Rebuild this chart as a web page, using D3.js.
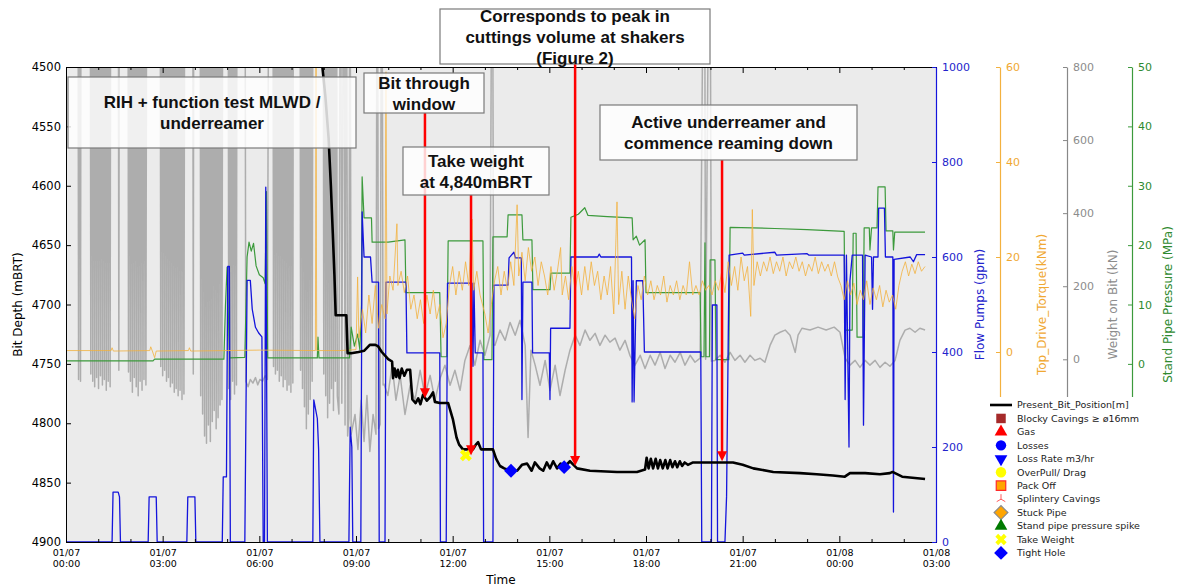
<!DOCTYPE html>
<html>
<head>
<meta charset="utf-8">
<script src="https://cdn.jsdelivr.net/npm/d3@7"></script>
<style>
    body { margin: 0; background: #ffffff; }
</style>
</head>
<body>
<svg id="chart" width="1180" height="588" font-family="'DejaVu Sans', sans-serif"></svg>
<script>
// ========================= DATA ==================================
// time is in hours after 01/07 00:00

const depthTicks = [4500, 4550, 4600, 4650, 4700, 4750, 4800, 4850, 4900];
const flowTicks = [0, 200, 400, 600, 800, 1000];
const torqueTicks = [0, 20, 40, 60];
const wobTicks = [0, 200, 400, 600, 800];
const sppTicks = [0, 10, 20, 30, 40, 50];
const timeTicks = [0, 3, 6, 9, 12, 15, 18, 21, 24, 27];

// Present_Bit_Position[m]  [hour, mBRT]
const bitPosition = [
    [7.92, 4490], [8.05, 4525], [8.15, 4560], [8.22, 4600], [8.28, 4640], [8.33, 4675], [8.37, 4709],
    [8.70, 4709], [8.74, 4741], [8.85, 4741], [9.08, 4740], [9.25, 4739], [9.43, 4734], [9.60, 4734],
    [9.68, 4735], [9.80, 4740], [10.0, 4746], [10.12, 4748], [10.15, 4762], [10.2, 4754], [10.25, 4761],
    [10.3, 4755], [10.35, 4762], [10.42, 4754], [10.5, 4760], [10.58, 4755], [10.68, 4755], [10.75, 4780],
    [10.85, 4783], [10.93, 4779], [11.0, 4784], [11.08, 4776], [11.2, 4781], [11.3, 4778], [11.39, 4774],
    [11.45, 4782], [11.6, 4783], [11.86, 4783], [12.01, 4797], [12.12, 4812], [12.2, 4818], [12.32, 4822],
    [12.63, 4822], [12.72, 4818], [12.79, 4816], [12.88, 4822], [13.25, 4822], [13.35, 4830], [13.47, 4836],
    [13.6, 4838], [13.8, 4840], [14.0, 4840], [14.15, 4835], [14.31, 4834], [14.45, 4840], [14.55, 4833],
    [14.7, 4838], [14.81, 4840], [14.92, 4833], [15.02, 4838], [15.12, 4832], [15.24, 4838], [15.35, 4834],
    [15.5, 4836], [15.64, 4832], [15.75, 4835], [15.86, 4838], [16.26, 4840], [17.1, 4841], [17.72, 4841],
    [17.97, 4839], [18.02, 4829], [18.08, 4838], [18.15, 4830], [18.22, 4838], [18.3, 4830], [18.37, 4838],
    [18.44, 4831], [18.52, 4838], [18.6, 4831], [18.67, 4838], [18.75, 4831], [18.82, 4837], [18.9, 4832],
    [18.97, 4837], [19.05, 4832], [19.12, 4836], [19.2, 4833], [19.3, 4835], [19.46, 4833], [19.68, 4833],
    [20.2, 4833], [20.7, 4833], [21.0, 4835], [21.33, 4838], [21.95, 4841], [22.78, 4842], [23.3, 4843],
    [23.8, 4844], [24.17, 4845], [24.33, 4842], [24.8, 4842], [25.26, 4843], [25.57, 4842], [25.65, 4841],
    [25.95, 4845], [26.66, 4847]
];

// Weight on Bit (kN)  [hour, kN]  (1500 = off scale while tripping)
const weightOnBit = [
    [0, 1500], [0.37, 1500], [0.39, -55], [0.42, 1500], [0.45, -60], [0.47, 1500],
    [0.75, 1500], [0.77, -40], [0.80, 1500], [0.83, -60], [0.86, 1500], [0.89, -75], [0.92, 1500], [0.95, -50],
    [0.98, 1500], [1.01, -80], [1.04, 1500], [1.07, -45], [1.10, 1500], [1.13, -70], [1.16, 1500], [1.19, -55],
    [1.22, 1500], [1.25, -85], [1.28, 1500], [1.31, -60], [1.34, 1500], [1.37, -75], [1.39, 1500],
    [1.62, 1500], [1.64, -30], [1.66, 1500],
    [1.92, 1500], [1.94, -35], [1.97, 1500], [2.00, -60], [2.03, 1500], [2.06, -90], [2.09, 1500], [2.12, -50],
    [2.15, 1500], [2.18, -75], [2.21, 1500], [2.24, -100], [2.27, 1500], [2.30, -60], [2.33, 1500], [2.36, -85],
    [2.39, 1500], [2.42, -55], [2.45, 1500], [2.48, -70], [2.51, 1500],
    [2.92, 1500], [2.94, -20], [2.97, 1500], [3.00, -45], [3.03, 1500], [3.06, -30], [3.09, 1500], [3.12, -60],
    [3.15, 1500], [3.18, -50], [3.21, 1500], [3.24, -75], [3.27, 1500], [3.30, -65], [3.33, 1500], [3.36, -90],
    [3.39, 1500], [3.42, -80], [3.45, 1500], [3.48, -100], [3.51, 1500], [3.54, -85], [3.57, 1500], [3.60, -110],
    [3.63, 1500], [3.66, -95], [3.69, 1500],
    [3.93, 1500], [3.95, -40], [3.97, 1500],
    [4.16, 1500], [4.18, -100], [4.21, 1500], [4.24, -150], [4.27, 1500], [4.30, -210], [4.33, 1500], [4.36, -230],
    [4.39, 1500], [4.42, -180], [4.45, 1500], [4.48, -225], [4.51, 1500], [4.54, -170], [4.57, 1500], [4.60, -140],
    [4.63, 1500], [4.66, -190], [4.69, 1500], [4.72, -160], [4.75, 1500], [4.78, -125], [4.81, 1500], [4.84, -110],
    [4.87, 1500],
    [5.03, 1500], [5.05, -80], [5.08, 1500], [5.11, -110], [5.14, 1500], [5.17, -60], [5.20, 1500], [5.23, -95],
    [5.26, 1500], [5.29, -70], [5.31, 1500],
    [5.55, 1500], [5.58, -60], [5.65, -75], [5.72, -55], [5.80, -65], [5.88, -50], [5.95, -70], [6.02, -55],
    [6.10, -60], [6.18, -45], [6.25, -55], [6.30, 1500],
    [6.42, 1500], [6.44, -20], [6.47, 1500], [6.50, -40], [6.53, 1500], [6.56, -30], [6.59, 1500], [6.62, -60],
    [6.65, 1500], [6.68, -45], [6.71, 1500], [6.74, -75], [6.77, 1500], [6.80, -55], [6.83, 1500], [6.86, -85],
    [6.89, 1500], [6.92, -70], [6.95, 1500], [6.98, -90], [7.01, 1500], [7.04, -65], [7.06, 1500],
    [7.26, 1500], [7.28, -30], [7.31, 1500], [7.34, -80], [7.37, 1500], [7.40, -130], [7.43, 1500], [7.46, -190],
    [7.49, 1500], [7.52, -150], [7.55, 1500], [7.58, -110], [7.61, 1500], [7.64, -60], [7.67, 1500],
    [7.98, 1500], [8.00, -40], [8.03, 1500], [8.06, -100], [8.09, 1500], [8.12, -160], [8.15, 1500], [8.18, -120],
    [8.21, 1500], [8.24, -80], [8.27, 1500], [8.30, -140], [8.33, 1500], [8.36, -60], [8.39, 1500], [8.42, -100],
    [8.47, -150], [8.52, 1500], [8.56, -120], [8.62, 1500], [8.66, -180], [8.70, 1500], [8.74, -210], [8.78, -160],
    [8.81, 1500], [8.85, -205], [8.97, -151], [9.06, -247], [9.16, -112], [9.25, -225], [9.34, -99], [9.43, -252],
    [9.53, -151], [9.62, -205], [9.66, 1500], [9.70, -190], [9.75, -178], [9.80, 1500], [9.84, -70], [9.87, -68],
    [9.99, -99], [10.12, -16], [10.24, -112], [10.37, -44], [10.52, -151], [10.68, -71], [10.83, -112], [10.99, -30],
    [11.14, -99], [11.30, -44], [11.45, -112], [11.61, -52], [11.76, -16], [11.92, -71], [12.07, -30], [12.23, -85],
    [12.38, -3], [12.54, 38], [12.69, -16], [12.85, 52], [13.00, 11], [13.16, 66], [13.23, 1500], [13.27, 40],
    [13.31, 38], [13.47, 80], [13.63, 52], [13.78, 101], [13.94, 66], [14.09, 107], [14.25, 38], [14.34, -214],
    [14.43, 25], [14.56, -16], [14.71, -71], [14.87, -3], [15.02, -85], [15.18, -16], [15.33, -99], [15.49, -30],
    [15.64, 25], [15.80, 66], [15.95, 38], [16.11, 80], [16.26, 52], [16.42, 71], [16.57, 38], [16.73, 66],
    [16.88, 47], [17.04, 58], [17.19, 25], [17.35, 52], [17.50, 11], [17.66, -16], [17.82, 11], [17.97, -25],
    [18.13, 11], [18.28, -16], [18.44, 19], [18.59, -25], [18.75, 11], [18.90, -8], [19.06, 19], [19.21, -16],
    [19.37, 11], [19.52, -8], [19.68, 3], [19.81, 1500], [19.85, 0], [19.98, 1500], [20.03, -5], [20.14, -3],
    [20.30, 11], [20.45, -8], [20.61, 19], [20.76, -3], [20.92, 11], [21.07, -8], [21.23, 11], [21.38, -3],
    [21.54, 3], [21.69, -8], [21.85, 38], [22.00, 66], [22.16, 74], [22.32, 80], [22.47, 66], [22.63, 19],
    [22.72, 66], [22.84, 85], [23.09, 80], [23.34, 88], [23.59, 80], [23.84, 88], [24.02, 74], [24.18, 3],
    [24.33, -16], [24.49, -3], [24.64, -22], [24.80, -3], [24.95, -16], [25.11, -3], [25.26, -22], [25.42, -8],
    [25.57, -19], [25.73, -3], [25.88, 52], [26.04, 80], [26.19, 85], [26.35, 74], [26.50, 85], [26.66, 80]
];

// Top_Drive_Torque(kNm)  [hour, kNm]
const topDriveTorque = [
    [0, 0.3], [1.4, 0.3], [1.43, 0.9], [1.47, 0.2], [2.6, 0.3], [2.63, 1.1], [2.68, 0.2], [2.75, -1.2],
    [2.8, 0.2], [3.8, 0.3], [3.83, 0.9], [3.87, 0.2], [5.0, 0.3], [6.0, 0.4], [7.74, 0.3], [7.76, 65],
    [7.78, 0.3], [8.5, 0.3], [9.0, 0.5], [9.05, 15.8], [9.09, 3], [9.2, 9], [9.3, 4], [9.4, 12], [9.5, 6],
    [9.6, 14], [9.7, 5], [9.8, 10], [9.9, 7], [9.93, 59], [9.96, 8], [10.05, 16], [10.15, 13], [10.27, 27],
    [10.3, 14], [10.4, 17], [10.5, 12.5], [10.6, 16], [10.7, 9], [10.8, 12], [10.9, 7], [11.0, 11], [11.1, 6],
    [11.2, 12], [11.3, 8], [11.4, 13], [11.5, 7], [11.6, 10], [11.7, 3], [11.8, 6], [11.9, 14], [12.0, 18],
    [12.1, 12], [12.2, 17], [12.3, 13], [12.4, 19], [12.5, 14], [12.6, 28], [12.65, 13], [12.75, 17],
    [12.85, 12], [13.0, 8], [13.1, 4], [13.2, 10], [13.3, 15], [13.4, 18], [13.5, 12], [13.6, 17], [13.7, 13],
    [13.8, 19], [13.9, 14], [14.0, 31], [14.05, 16], [14.15, 21], [14.25, 15], [14.35, 22], [14.45, 17],
    [14.55, 20], [14.65, 14], [14.75, 19], [14.85, 16], [14.95, 12], [15.05, 18], [15.15, 13], [15.25, 17],
    [15.35, 22], [15.4, 12], [15.5, 16], [15.6, 11], [15.7, 18], [15.8, 13], [15.9, 17], [16.0, 12],
    [16.1, 18], [16.2, 13], [16.3, 19], [16.4, 14], [16.5, 17], [16.6, 11], [16.7, 16], [16.8, 12],
    [16.9, 18], [17.0, 8], [17.1, 31.6], [17.15, 10], [17.25, 17], [17.35, 9], [17.45, 16], [17.55, 11],
    [17.65, 7], [17.75, 14], [17.85, 11], [17.95, 16], [18.05, 12], [18.15, 15], [18.25, 11], [18.35, 14],
    [18.45, 12], [18.55, 16], [18.65, 10.5], [18.75, 14], [18.85, 12], [18.95, 15], [19.05, 11], [19.15, 14],
    [19.25, 12], [19.35, 19], [19.45, 12], [19.55, 14], [19.65, 12], [19.75, 15], [19.85, 13], [19.95, 14],
    [20.05, 12], [20.15, 15], [20.25, 13], [20.35, 17], [20.45, 12.5], [20.55, 19], [20.65, 14], [20.75, 18],
    [20.85, 13], [20.95, 20], [21.05, 15], [21.15, 18], [21.25, 7.5], [21.3, 30], [21.35, 14], [21.45, 19],
    [21.55, 16], [21.65, 19], [21.75, 17], [21.85, 20], [21.95, 16.5], [22.05, 19], [22.15, 17], [22.25, 20],
    [22.35, 16], [22.45, 19], [22.55, 17.5], [22.65, 20], [22.75, 17], [22.85, 19], [22.95, 16], [23.05, 18.5],
    [23.15, 17], [23.25, 20], [23.35, 16.5], [23.45, 19], [23.55, 17], [23.65, 18.5], [23.75, 16], [23.85, 19],
    [23.95, 15.8], [24.05, 14], [24.15, 11], [24.25, 15], [24.35, 12], [24.45, 14.5], [24.55, 10], [24.65, 13],
    [24.75, 11], [24.85, 15], [24.95, 10], [25.05, 13.5], [25.15, 11], [25.25, 14], [25.35, 9.5], [25.45, 13],
    [25.55, 10.5], [25.65, 12], [25.75, 9], [25.85, 14], [25.95, 17], [26.05, 19], [26.15, 16], [26.25, 18.5],
    [26.35, 16.5], [26.45, 19], [26.55, 17], [26.66, 18]
];

// Flow Pumps (gpm)  [hour, gpm]
const flowPumps = [
    [0, 0], [1.43, 0], [1.46, 105], [1.62, 105], [1.66, 95], [1.69, 0], [2.55, 0], [2.58, 95], [2.8, 95],
    [2.83, 0], [3.75, 0], [3.78, 95], [4.0, 95], [4.03, 0], [4.85, 0], [4.88, 137], [4.98, 137], [5.02, 580],
    [5.07, 580], [5.1, 0], [5.55, 0], [5.62, 551], [5.72, 551], [5.78, 490], [5.88, 452], [5.98, 440],
    [6.08, 432], [6.12, 0], [6.16, 0], [6.2, 747], [6.25, 0], [7.66, 0], [7.69, 299], [7.8, 260], [7.84, 195],
    [7.88, 0], [8.78, 0], [8.82, 242], [8.87, 200], [8.9, 0], [9.15, 0], [9.19, 695], [9.25, 600], [9.45, 600],
    [9.5, 547], [9.7, 547], [9.72, 0], [9.9, 0], [9.93, 547], [10.55, 547], [10.58, 398], [11.6, 398],
    [11.62, 0], [11.8, 0], [11.84, 545], [12.6, 545], [12.63, 370], [12.66, 545], [12.7, 398], [12.94, 398],
    [12.96, 0], [13.25, 0], [13.28, 541], [13.72, 541], [13.75, 598], [13.9, 610], [13.95, 598], [14.13, 598],
    [14.15, 300], [14.18, 547], [14.46, 547], [14.48, 398], [15.0, 398], [15.02, 300], [15.04, 450],
    [15.64, 450], [15.67, 600], [16.5, 600], [16.55, 606], [16.6, 600], [17.55, 600], [17.57, 295], [17.6, 550],
    [17.63, 295], [17.7, 550], [17.9, 550], [17.95, 400], [19.7, 400], [19.73, 0], [20.03, 0], [20.06, 499],
    [20.2, 499], [20.22, 0], [20.45, 0], [20.5, 95], [20.58, 604], [21.0, 608], [21.05, 604], [22.0, 610],
    [22.05, 604], [23.0, 607], [23.05, 604], [24.15, 604], [24.18, 300], [24.22, 604], [24.3, 200],
    [24.33, 550], [24.4, 604], [24.72, 604], [24.75, 246], [24.8, 604], [25.0, 600], [25.03, 490], [25.06, 600],
    [25.2, 600], [25.22, 703], [25.4, 703], [25.43, 600], [25.66, 600], [25.68, 63], [25.7, 595], [26.2, 600],
    [26.3, 590], [26.4, 605], [26.66, 605]
];

// Stand Pipe Pressure (MPa)  [hour, MPa]
const standPipePressure = [
    [0, 0.5], [2.7, 0.5], [2.75, 0.8], [4.9, 0.8], [4.95, 10], [5.0, 16.3], [5.04, 8], [5.08, 1], [5.55, 1.1],
    [5.62, 18], [5.68, 20.5], [5.75, 19], [5.82, 20.3], [5.9, 16.5], [6.0, 15], [6.12, 14.5], [6.18, 13.5],
    [6.22, 29], [6.26, 1], [7.8, 1], [7.82, 4.5], [7.85, 1], [8.8, 1], [8.85, 6.2], [8.95, 3], [9.05, 5],
    [9.12, 2.4], [9.17, 10], [9.19, 31.5], [9.25, 24.6], [9.48, 24.6], [9.5, 20.5], [10.0, 20.5], [10.52, 20.9],
    [10.55, 12], [11.6, 12], [11.64, 1.2], [11.82, 1.2], [11.86, 20.7], [12.94, 20.7], [12.97, 0.7],
    [13.22, 0.7], [13.25, 21.4], [13.69, 21.4], [13.72, 25.1], [14.15, 25.1], [14.18, 20.9], [14.46, 20.9],
    [14.49, 12.5], [15.02, 12.5], [15.05, 15.3], [15.64, 15.3], [15.67, 24.7], [15.9, 25.2], [16.1, 26.3],
    [16.2, 25], [16.8, 24.8], [17.57, 24.6], [17.6, 20.9], [17.7, 21.5], [17.8, 20], [17.97, 20.9], [18.0, 12],
    [19.68, 12], [19.71, 1.2], [19.8, 1.2], [19.83, 20.4], [19.86, 1.2], [19.97, 1.2], [19.99, 17.5],
    [20.14, 17.5], [20.17, 0.7], [20.57, 0.7], [20.61, 23], [22.0, 22.8], [23.0, 22.6], [24.15, 22.3],
    [24.18, 5.7], [24.4, 5.7], [24.43, 22], [24.52, 22], [24.55, 4.5], [24.74, 4.5], [24.77, 22.9],
    [24.93, 22.9], [24.95, 19.2], [25.0, 22.9], [25.17, 22.9], [25.2, 29.8], [25.42, 29.8], [25.45, 22.4],
    [25.66, 22.4], [25.68, 19.2], [25.72, 22.2], [26.66, 22.2]
];

// events  [hour, mBRT]
const takeWeight = [[12.41, 4827]];
const tightHole = [[13.81, 4840], [15.46, 4837]];
const arrowTips = [[11.14, 4779], [12.57, 4827], [15.8, 4836], [20.36, 4832]];

const annotationText = [
    ['RIH + function test MLWD /', 'underreamer'],
    ['Bit through', 'window'],
    ['Corresponds to peak in', 'cuttings volume at shakers', '(Figure 2)'],
    ['Take weight', 'at 4,840mBRT'],
    ['Active underreamer and', 'commence reaming down']
];

const legendNames = [
    'Present_Bit_Position[m]', 'Blocky Cavings \u2265 \u00f816mm', 'Gas', 'Losses', 'Loss Rate m3/hr',
    'OverPull/ Drag', 'Pack Off', 'Splintery Cavings', 'Stuck Pipe', 'Stand pipe pressure spike',
    'Take Weight', 'Tight Hole'
];

// ========================= LAYOUT ==================================

const plot = { left: 66, top: 67, right: 936, bottom: 542 };

// annotation boxes (pixels) and which box each red arrow leaves from
const annotationBoxes = [
    { x: 68, y: 77, w: 288, h: 71 },
    { x: 364, y: 73, w: 120, h: 40 },
    { x: 440, y: 9, w: 270, h: 55 },
    { x: 403, y: 147, w: 146, h: 48 },
    { x: 600, y: 105, w: 257, h: 55 }
];
const arrowFromBox = [1, 3, 2, 4];

const colours = {
    bit: '#000000',
    flow: '#1414dc',
    flowText: '#2323cc',
    torque: '#f3b13f',
    torqueText: '#f0a832',
    wob: '#a6a6a6',
    wobText: '#8c8c8c',
    spp: '#3c9a3c',
    sppText: '#2f8a2f'
};

// axis dates read month/day: 01/07 is 7 January
const start = new Date(2019, 0, 7, 0, 0);
const at = h => new Date(start.getTime() + h * 3600 * 1000);

const x = d3.scaleTime().domain([at(0), at(27)]).range([plot.left, plot.right]);
const yDepth = d3.scaleLinear().domain([4500, 4900]).range([plot.top, plot.bottom]);
const yFlow = d3.scaleLinear().domain([0, 1000]).range([plot.bottom, plot.top]);
const yTorque = d3.scaleLinear().domain([-40, 60]).range([plot.bottom, plot.top]);
const yWob = d3.scaleLinear().domain([-500, 800]).range([plot.bottom, plot.top]);
const ySpp = d3.scaleLinear().domain([-30, 50]).range([plot.bottom, plot.top]);

const svg = d3.select('#chart');

svg.append('rect')
    .attr('x', plot.left)
    .attr('y', plot.top)
    .attr('width', plot.right - plot.left)
    .attr('height', plot.bottom - plot.top)
    .attr('fill', '#ebebeb');

svg.append('clipPath')
    .attr('id', 'plot-clip')
    .append('rect')
    .attr('x', plot.left)
    .attr('y', plot.top)
    .attr('width', plot.right - plot.left)
    .attr('height', plot.bottom - plot.top);

const marks = svg.append('g').attr('clip-path', 'url(#plot-clip)');

const drawSeries = (data, yScale, colour, width, opacity) => {
    marks.append('path')
        .datum(data)
        .attr('fill', 'none')
        .attr('stroke', colour)
        .attr('stroke-width', width)
        .attr('stroke-opacity', opacity)
        .attr('stroke-linejoin', 'round')
        .attr('d', d3.line().x(d => x(at(d[0]))).y(d => yScale(d[1])));
};

drawSeries(weightOnBit, yWob, colours.wob, 1.5, 0.9);
drawSeries(standPipePressure, ySpp, colours.spp, 1.2, 1);
drawSeries(flowPumps, yFlow, colours.flow, 1.3, 1);
drawSeries(topDriveTorque, yTorque, colours.torque, 1, 0.8);
drawSeries(bitPosition, yDepth, colours.bit, 2.6, 1);

// event markers
marks.selectAll('.take-weight')
    .data(takeWeight)
    .enter()
    .append('path')
    .attr('class', 'take-weight')
    .attr('d', d3.symbol(d3.symbolCross, 90))
    .attr('transform', d => `translate(${x(at(d[0]))},${yDepth(d[1])}) rotate(45)`)
    .attr('fill', '#ffff00');

marks.selectAll('.tight-hole')
    .data(tightHole)
    .enter()
    .append('path')
    .attr('class', 'tight-hole')
    .attr('d', d3.symbol(d3.symbolSquare, 95))
    .attr('transform', d => `translate(${x(at(d[0]))},${yDepth(d[1])}) rotate(45)`)
    .attr('fill', '#0000ff');

// ========================= AXES ==================================

const styleAxis = (g, colour, size) => {
    g.attr('font-family', '"DejaVu Sans", sans-serif').attr('font-size', size);
    g.selectAll('.tick line').attr('stroke', colour);
    g.selectAll('.tick text').attr('fill', colour);
    g.select('.domain').attr('stroke', colour);
};

// time axis: major ticks every 3h, minor every hour, ticks pointing inwards
const minorTicks = d3.range(0, 28).filter(h => h % 3 !== 0).map(at);

svg.append('g')
    .attr('transform', `translate(0,${plot.bottom})`)
    .call(d3.axisBottom(x).tickValues(minorTicks).tickSize(-3).tickFormat(''))
    .call(g => g.select('.domain').remove())
    .call(g => g.selectAll('line').attr('stroke', '#000'));

svg.append('g')
    .attr('transform', `translate(0,${plot.top})`)
    .call(d3.axisTop(x).tickValues(minorTicks).tickSize(-3).tickFormat(''))
    .call(g => g.select('.domain').remove())
    .call(g => g.selectAll('line').attr('stroke', '#000'));

svg.append('g')
    .attr('transform', `translate(0,${plot.top})`)
    .call(d3.axisTop(x).tickValues(timeTicks.map(at)).tickSize(-6).tickFormat(''))
    .call(g => g.select('.domain').remove())
    .call(g => g.selectAll('line').attr('stroke', '#000'));

const xAxis = svg.append('g')
    .attr('transform', `translate(0,${plot.bottom})`)
    .call(d3.axisBottom(x).tickValues(timeTicks.map(at)).tickSize(-6).tickFormat(d3.timeFormat('%m/%d')))
    .call(g => g.select('.domain').remove());
styleAxis(xAxis, '#000', 9.5);
xAxis.selectAll('.tick text').each(function (d) {
    const t = d3.select(this);
    t.text(null).attr('y', 0).attr('dy', null);
    t.append('tspan').attr('x', 0).attr('y', 14).text(d3.timeFormat('%m/%d')(d));
    t.append('tspan').attr('x', 0).attr('y', 25).text(d3.timeFormat('%H:%M')(d));
});

svg.append('text')
    .attr('x', (plot.left + plot.right) / 2)
    .attr('y', 584)
    .attr('text-anchor', 'middle')
    .attr('font-size', 12)
    .attr('fill', '#000')
    .text('Time');

// depth axis
const depthAxis = svg.append('g')
    .attr('transform', `translate(${plot.left},0)`)
    .call(d3.axisLeft(yDepth).tickValues(depthTicks).tickSize(-5).tickPadding(5).tickFormat(d3.format('d')))
    .call(g => g.select('.domain').remove());
styleAxis(depthAxis, '#000', 11.5);

svg.append('text')
    .attr('transform', `translate(18,${(plot.top + plot.bottom) / 2}) rotate(-90)`)
    .attr('dy', '0.35em')
    .attr('text-anchor', 'middle')
    .attr('font-size', 12)
    .attr('fill', '#000')
    .text('Bit Depth (mBRT)');

// plot frame
svg.append('rect')
    .attr('x', plot.left)
    .attr('y', plot.top)
    .attr('width', plot.right - plot.left)
    .attr('height', plot.bottom - plot.top)
    .attr('fill', 'none')
    .attr('stroke', '#000')
    .attr('stroke-width', 1)
    .attr('shape-rendering', 'crispEdges');

// right hand axes
const rightAxes = [
    { scale: yFlow, ticks: flowTicks, offset: 0, colour: colours.flow, text: colours.flowText, title: 'Flow Pumps (gpm)', titleX: 980 },
    { scale: yTorque, ticks: torqueTicks, offset: 64, colour: colours.torque, text: colours.torqueText, title: 'Top_Drive_Torque(kNm)', titleX: 1042 },
    { scale: yWob, ticks: wobTicks, offset: 131, colour: '#888888', text: colours.wobText, title: 'Weight on Bit (kN)', titleX: 1113 },
    { scale: ySpp, ticks: sppTicks, offset: 196, colour: colours.spp, text: colours.sppText, title: 'Stand Pipe Pressure (MPa)', titleX: 1168 }
];

rightAxes.forEach(a => {
    const g = svg.append('g')
        .attr('transform', `translate(${plot.right + a.offset},0)`)
        .call(d3.axisRight(a.scale).tickValues(a.ticks).tickSize(-4).tickSizeOuter(0).tickPadding(6).tickFormat(d3.format('d')));
    styleAxis(g, a.colour, 11);
    g.selectAll('.tick text').attr('fill', a.text);
    g.select('.domain').attr('stroke-width', 1.2);

    svg.append('text')
        .attr('transform', `translate(${a.titleX},${(plot.top + plot.bottom) / 2}) rotate(-90)`)
        .attr('dy', '0.35em')
        .attr('text-anchor', 'middle')
        .attr('font-size', 12)
        .attr('fill', a.text)
        .text(a.title);
});

// ========================= ANNOTATIONS ==================================

arrowTips.forEach((d, i) => {
    const box = annotationBoxes[arrowFromBox[i]];
    const ax = x(at(d[0]));
    const tip = yDepth(d[1]);
    svg.append('line')
        .attr('x1', ax)
        .attr('x2', ax)
        .attr('y1', box.y + box.h)
        .attr('y2', tip - 8)
        .attr('stroke', '#ff0000')
        .attr('stroke-width', 2.5);
    svg.append('path')
        .attr('d', `M${ax - 5},${tip - 10}L${ax + 5},${tip - 10}L${ax},${tip}Z`)
        .attr('fill', '#ff0000');
});

annotationText.forEach((lines, i) => {
    const b = annotationBoxes[i];
    const g = svg.append('g');
    g.append('rect')
        .attr('x', b.x)
        .attr('y', b.y)
        .attr('width', b.w)
        .attr('height', b.h)
        .attr('fill', '#ffffff')
        .attr('fill-opacity', 0.82)
        .attr('stroke', '#7a7a7a')
        .attr('stroke-width', 1.2);
    const lineH = 21;
    const cy = b.y + b.h / 2 - (lines.length - 1) * lineH / 2;
    lines.forEach((line, j) => {
        g.append('text')
            .attr('x', b.x + b.w / 2)
            .attr('y', cy + j * lineH)
            .attr('dy', '0.36em')
            .attr('text-anchor', 'middle')
            .attr('font-family', '"Liberation Sans", Arial, sans-serif')
            .attr('font-weight', 'bold')
            .attr('font-size', 17)
            .attr('fill', '#111')
            .text(line);
    });
});

// ========================= LEGEND ==================================

const legendSymbols = {
    'Blocky Cavings \u2265 \u00f816mm': { type: d3.symbolSquare, size: 90, fill: '#a52a2a' },
    'Gas': { type: d3.symbolTriangle, size: 70, fill: '#ff0000' },
    'Losses': { type: d3.symbolCircle, size: 85, fill: '#0000ff' },
    'Loss Rate m3/hr': { type: d3.symbolTriangle, size: 70, fill: '#0000ff', rotate: 180 },
    'OverPull/ Drag': { type: d3.symbolCircle, size: 85, fill: '#ffff00' },
    'Pack Off': { type: d3.symbolSquare, size: 90, fill: '#ffa500', stroke: '#ff2a2a' },
    'Stuck Pipe': { type: d3.symbolSquare, size: 95, fill: '#ffa500', stroke: '#8a8a8a', rotate: 45 },
    'Stand pipe pressure spike': { type: d3.symbolTriangle, size: 70, fill: '#007a00' },
    'Take Weight': { type: d3.symbolCross, size: 80, fill: '#ffff00', rotate: 45 },
    'Tight Hole': { type: d3.symbolSquare, size: 95, fill: '#0000ff', rotate: 45 }
};

const legend = svg.append('g').attr('transform', 'translate(985,397)');
legend.append('rect')
    .attr('width', 195)
    .attr('height', 165)
    .attr('fill', '#ffffff');

const items = legend.selectAll('.item')
    .data(legendNames)
    .enter()
    .append('g')
    .attr('class', 'item')
    .attr('transform', (d, i) => `translate(16,${8 + i * 13.45})`);

items.each(function (name) {
    const g = d3.select(this);
    const s = legendSymbols[name];
    if (name === 'Present_Bit_Position[m]') {
        g.append('line').attr('x1', -11).attr('x2', 11).attr('stroke', '#000').attr('stroke-width', 2.6);
    } else if (name === 'Splintery Cavings') {
        g.append('path')
            .attr('d', 'M0,0V-5M0,0L-4.3,2.5M0,0L4.3,2.5')
            .attr('fill', 'none')
            .attr('stroke', '#ff5a5a')
            .attr('stroke-width', 1);
    } else {
        g.append('path')
            .attr('d', d3.symbol(s.type, s.size))
            .attr('transform', `rotate(${s.rotate || 0})`)
            .attr('fill', s.fill)
            .attr('stroke', s.stroke || 'none')
            .attr('stroke-width', 1.2);
    }
    g.append('text')
        .attr('x', 16)
        .attr('dy', '0.35em')
        .attr('font-size', 9.5)
        .attr('fill', '#222')
        .text(name);
});
</script>
</body>
</html>
